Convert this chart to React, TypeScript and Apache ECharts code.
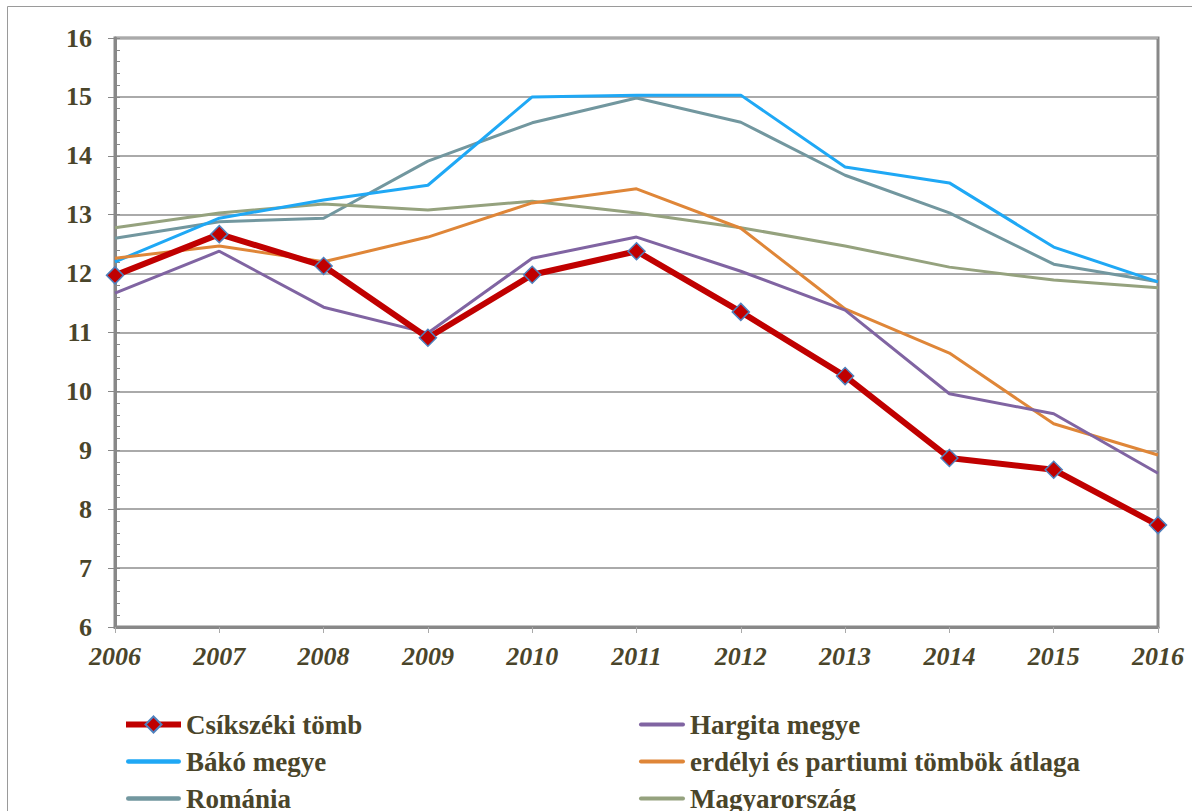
import React, { useEffect, useRef } from "react";
import * as echarts from "echarts";

const years = ["2006", "2007", "2008", "2009", "2010", "2011", "2012", "2013", "2014", "2015", "2016"];
const csikszeki = [11.97, 12.67, 12.13, 10.91, 11.98, 12.38, 11.35, 10.26, 8.87, 8.67, 7.73];
const hargita = [11.67, 12.38, 11.43, 10.99, 12.26, 12.62, 12.04, 11.38, 9.96, 9.62, 8.61];
const bako = [12.2, 12.94, 13.25, 13.5, 15.0, 15.03, 15.03, 13.81, 13.54, 12.45, 11.86];
const erdelyi = [12.26, 12.47, 12.2, 12.62, 13.2, 13.44, 12.77, 11.4, 10.65, 9.45, 8.92];
const romania = [12.6, 12.88, 12.94, 13.91, 14.56, 14.98, 14.57, 13.67, 13.03, 12.16, 11.86];
const magyarorszag = [12.78, 13.03, 13.18, 13.08, 13.23, 13.03, 12.78, 12.47, 12.11, 11.89, 11.76];

const names = {
  csik: "Csíkszéki tömb",
  harg: "Hargita megye",
  bako: "Bákó megye",
  erd: "erdélyi és partiumi tömbök átlaga",
  rom: "Románia",
  magy: "Magyarország",
};

const TEXT = "#4A452A";
const FONT = "Liberation Serif";
const LINE_ICON = "path://M2,0 L46,0 A2,2 0 0 1 46,4 L2,4 A2,2 0 0 1 2,0 Z";

export default function App() {
  const ref = useRef<HTMLDivElement>(null);
  useEffect(() => {
    if (!ref.current) return;
    const chart = echarts.init(ref.current, null, { renderer: "svg" });
    const line = (name: string, data: number[], color: string, z = 2) => ({
      name,
      type: "line",
      data,
      xAxisIndex: 0,
      yAxisIndex: 0,
      symbol: "none",
      z,
      lineStyle: { color, width: 3 },
      itemStyle: { color },
    });
    const legendText = { color: TEXT, fontFamily: FONT, fontWeight: "bold", fontSize: 27, lineHeight: 27 };
    chart.setOption({
      animation: false,
      backgroundColor: "#ffffff",
      textStyle: { fontFamily: FONT },
      graphic: [
        {
          type: "rect",
          shape: { x: 7.5, y: 6.5, width: 1300, height: 1000 },
          style: { fill: "none", stroke: "#9a9a9a", lineWidth: 1 },
          silent: true,
        },
      ],
      grid: {
        left: 115,
        top: 38,
        right: 34,
        bottom: 184,
        show: true,
        borderColor: "#888888",
        borderWidth: 3,
      },
      legend: [
        {
          orient: "vertical",
          left: 123,
          top: 711,
          padding: 0,
          height: 140,
          itemWidth: 55,
          itemHeight: 20,
          itemGap: 10,
          symbolKeepAspect: true,
          data: [
            { name: names.csik, lineStyle: { width: 6 } },
            { name: names.bako, icon: LINE_ICON },
            { name: names.rom, icon: LINE_ICON },
          ],
          textStyle: legendText,
        },
        {
          orient: "vertical",
          left: 639,
          top: 711,
          padding: 0,
          height: 140,
          itemWidth: 46,
          itemHeight: 20,
          itemGap: 10,
          symbolKeepAspect: true,
          data: [
            { name: names.harg, icon: LINE_ICON },
            { name: names.erd, icon: LINE_ICON },
            { name: names.magy, icon: LINE_ICON },
          ],
          textStyle: legendText,
        },
      ],
      xAxis: {
        type: "category",
        data: years,
        boundaryGap: false,
        axisLine: { lineStyle: { color: "#888888", width: 3 } },
        axisTick: { show: true, length: 6, lineStyle: { color: "#aaaaaa", width: 1 } },
        axisLabel: {
          color: TEXT,
          fontFamily: FONT,
          fontWeight: "bold",
          fontStyle: "italic",
          fontSize: 26,
          margin: 16,
        },
        splitLine: { show: false },
      },
      yAxis: [
        {
          type: "value",
          min: 6,
          max: 16,
          interval: 1,
          axisLine: { show: true, lineStyle: { color: "#888888", width: 3 } },
          axisTick: { show: true, length: 7, lineStyle: { color: "#888888", width: 1 } },
          axisLabel: {
            color: TEXT,
            fontFamily: FONT,
            fontWeight: "bold",
            fontSize: 26,
            margin: 23,
          },
          splitLine: { show: true, lineStyle: { color: "#aaaaaa", width: 2 } },
        },
        {
          type: "value",
          position: "left",
          min: 6,
          max: 16,
          interval: 0.2,
          axisLine: { show: false },
          axisTick: { show: true, inside: true, length: 5, lineStyle: { color: "#888888", width: 1 } },
          axisLabel: { show: false },
          splitLine: { show: false },
        },
      ],
      series: [
        line(names.rom, romania, "#72979F"),
        line(names.magy, magyarorszag, "#95A27E"),
        line(names.bako, bako, "#1FA8F5"),
        line(names.erd, erdelyi, "#DF8638"),
        line(names.harg, hargita, "#8064A2"),
        {
          name: names.csik,
          type: "line",
          data: csikszeki,
          xAxisIndex: 0,
          yAxisIndex: 0,
          z: 5,
          symbol: "diamond",
          symbolSize: 17,
          lineStyle: { color: "#C00000", width: 6 },
          itemStyle: { color: "#C00000", borderColor: "#4F81BD", borderWidth: 1.5 },
        },
      ],
    });
    return () => chart.dispose();
  }, []);
  return (
    <div
      ref={ref}
      style={{ position: "fixed", left: 0, top: 0, width: 1192, height: 811, background: "#fff" }}
    />
  );
}
